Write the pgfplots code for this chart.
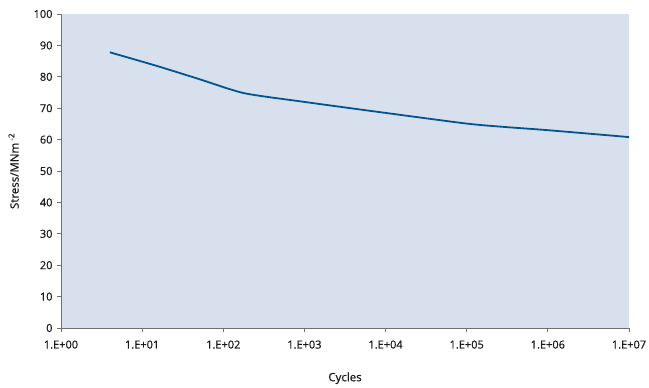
\documentclass[border=0pt]{standalone}
\usepackage{fontspec}
\setmainfont{Open Sans}[FakeBold=0.6]
\usepackage{pgfplots}
\pgfplotsset{compat=1.18}
\definecolor{bgc}{HTML}{D9E0ED}
\definecolor{linec}{HTML}{00558F}
\definecolor{axc}{HTML}{707070}
\definecolor{txt}{HTML}{1A1A1A}
\begin{document}
\begin{tikzpicture}
\path[use as bounding box] (-61bp,-60bp) rectangle (588bp,328bp);
\begin{axis}[
  at={(0,0)}, anchor=south west,
  scale only axis, width=568bp, height=314bp,
  xmode=log, xmin=1, xmax=1e7, ymin=0, ymax=100,
  axis x line*=bottom, axis y line*=left,
  axis line style={axc, line width=1pt},
  every tick/.style={axc, line width=0.8pt},
  tick align=outside, major tick length=4bp,
  xminorticks=false,
  xtick={1,10,100,1000,10000,100000,1000000,10000000},
  xticklabels={1.E+00,1.E+01,1.E+02,1.E+03,1.E+04,1.E+05,1.E+06,1.E+07},
  ytick={0,10,...,100},
  /pgf/number format/assume math mode=true,
  tick label style={text=txt, font=\fontsize{11bp}{13bp}\selectfont},
  yticklabel style={xshift=-1bp},
  xticklabel style={yshift=-5bp},
  axis background/.style={fill=bgc},
  xlabel={Cycles},
  ylabel={Stress/MNm\textsuperscript{ -2}},
  label style={text=txt, font=\fontsize{11.5bp}{13bp}\selectfont},
  xlabel style={yshift=-17bp},
  ylabel style={yshift=8bp},
  clip=false,
]
\addplot[linec, line width=1.8pt, smooth, tension=0.4] coordinates {
  (4,87.8) (15,83.5) (50,79.3) (180,74.8) (1000,72.0) (10000,68.5) (100000,65.1) (300000,64.0) (1000000,63.0) (10000000,60.8)
};
\end{axis}
\end{tikzpicture}
\end{document}
